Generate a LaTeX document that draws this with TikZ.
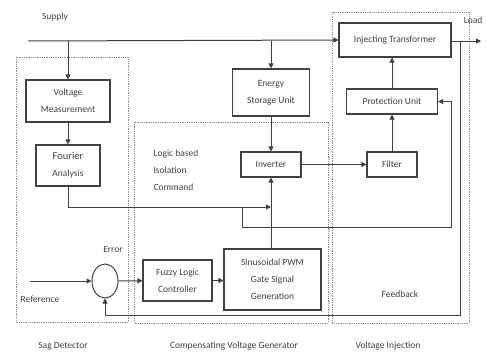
\documentclass[tikz,border=0pt]{standalone}
\usepackage{fontspec}
\setmainfont{Carlito}
\usepackage{tikz}
\usetikzlibrary{shapes.geometric, arrows.meta, positioning}

\begin{document}
\begin{tikzpicture}[
    x=1pt, y=-1pt,
    font=\fontsize{9.5}{17}\selectfont,
    every node/.style={text=black!75},
    block/.style={rectangle, draw=black!75, line width=1.1pt, align=center,
                  inner sep=0pt},
    group/.style={draw=black!45, densely dotted, line width=0.8pt},
    wire/.style={draw=black!75, line width=1pt},
    arrow/.style={wire, -{Triangle[length=5pt, width=5pt]}},
]
\useasboundingbox (0,0) rectangle (486,354);

% Groups
\draw[group] (16,57) rectangle (128,322);
\draw[group] (134,122) rectangle (328,323);
\draw[group] (332,12) rectangle (469,323);

% Sag detector
\node[block, minimum width=84pt, minimum height=42pt] (vm) at (68,101) {Voltage\\Measurement};
\node[block, minimum width=64pt, minimum height=41pt] (fa) at (68,165.5) {\fontsize{10.5}{17}\selectfont Fourier\\Analysis};
\node[ellipse, draw=black!75, line width=1pt, minimum width=26pt, minimum height=34pt,
      inner sep=0pt] (err) at (105,281) {};

% Compensating voltage generator
\node[block, minimum width=77pt, minimum height=47pt] (esu) at (271,92.5) {Energy\\Storage Unit};
\node[block, minimum width=60pt, minimum height=25pt] (inv) at (271,164.5) {Inverter};
\node[block, minimum width=69pt, minimum height=41pt] (flc) at (177.5,280.5) {Fuzzy Logic\\Controller};
\node[block, minimum width=97pt, minimum height=61pt] (pwm) at (272.5,279.5) {Sinusoidal PWM\\Gate Signal\\Generation};

% Voltage injection
\node[block, minimum width=112pt, minimum height=34pt] (it) at (395,40) {Injecting Transformer};
\node[block, minimum width=91pt, minimum height=25pt] (pu) at (392,101.5) {Protection Unit};
\node[block, minimum width=50pt, minimum height=25pt] (filt) at (392,164.5) {Filter};

% Labels
\node (supply) at (55,17) {Supply};
\node[anchor=east] (load) at (486,20) {Load};
\node (error) at (113,249) {Error};
\node (ref) at (40,299) {Reference};
\node[align=left, anchor=north west] (cmd) at (150,146) {Logic based\\Isolation\\Command};
\node (fb) at (400,294) {Feedback};
\node (sag) at (63,346) {Sag Detector};
\node (cvg) at (234,346) {Compensating Voltage Generator};
\node (vinj) at (388,346) {Voltage Injection};

% Coordinates
\coordinate (sup) at (28,41);
\coordinate (out) at (481,41);
\coordinate (tap) at (460,41);
\coordinate (refin) at (30,281);
\coordinate (fork) at (242,207);

% Arrows
\draw[arrow] (sup) -- (it.west);
\draw[arrow] (vm.north |- sup) -- (vm.north);
\draw[arrow] (esu.north |- sup) -- (esu.north);
\draw[arrow] (it.east |- out) -- (out);
\draw[arrow] (vm) -- (fa);
\draw[arrow] (esu) -- (inv);
\draw[arrow] (pwm.north -| inv) -- (inv.south);
\draw[arrow] (inv) -- (filt);
\draw[arrow] (filt) -- (pu);
\draw[arrow] (pu.north) -- (pu.north |- it.south);
\draw[wire] (fa.south) |- (fork);
\draw[arrow] (fork) -- (fork -| inv);
\draw[arrow] (fork) -- (242,227) -- (451,227) |- (pu.east);
\draw[arrow] (refin) -- (err.west);
\draw[arrow] (err) -- (flc);
\draw[arrow] (flc) -- (flc -| pwm.west);
\draw[arrow] (tap) -- (460,315) -| (err.south);

\end{tikzpicture}
\end{document}
